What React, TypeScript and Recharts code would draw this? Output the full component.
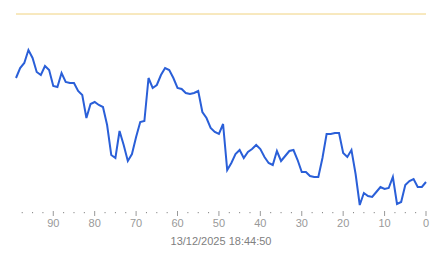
import React from 'react';
import { LineChart, Line, XAxis, YAxis, ReferenceLine } from 'recharts';

// x positions: seconds ago, from 99 down to 0
const ages: number[] = Array.from({ length: 100 }, (_, i) => 99 - i);

// series values
const values: number[] = [
  132, 142, 147, 160, 152, 138, 135, 144, 140, 124,
  123, 137, 128, 127, 127, 119, 115, 92, 106, 108,
  105, 103, 85, 55, 52, 79, 65, 49, 56, 73,
  88, 89, 132, 122, 125, 135, 142, 140, 132, 122,
  121, 117, 116, 117, 119, 98, 92, 82, 78, 76,
  86, 40, 47, 56, 60, 52, 58, 61, 65, 61,
  53, 47, 45, 59, 49, 54, 59, 60, 50, 38,
  38, 34, 33, 33, 52, 76, 76, 77, 77, 57,
  53, 60, 36, 5, 17, 14, 13, 18, 23, 21,
  22, 33, 6, 8, 25, 29, 31, 23, 23, 28,
];

const limitValue = 196;
const tickValues: number[] = Array.from({ length: 40 }, (_, i) => i * 2.5);
const axisTitle = '13/12/2025 18:44:50';

const data = ages.map((age, i) => ({ age, value: values[i] }));

const Tick = (props: any) => {
  const { x, y, payload } = props;
  const v = payload.value as number;
  const major = Math.abs(v % 10) < 0.001;
  if (major) {
    return (
      <g>
        <line x1={x} x2={x} y1={y + 1} y2={y + 6} stroke="#999" strokeWidth={1} />
        <text x={x} y={y + 17} textAnchor="middle" fill="#999" fontSize={11} fontFamily="Liberation Sans, Arial, sans-serif">
          {v}
        </text>
      </g>
    );
  }
  return <rect x={x - 0.5} y={y + 2} width={1} height={1.2} fill="#888" />;
};

export default function App() {
  return (
    <div style={{ position: 'absolute', left: 0, top: 0, background: '#fff' }}>
      <LineChart width={443} height={258} data={data} margin={{ top: 10, right: 17, bottom: 8, left: 16 }}>
        <XAxis
          dataKey="age"
          type="number"
          domain={[0, 99]}
          reversed
          ticks={tickValues}
          interval={0}
          tick={<Tick />}
          tickLine={false}
          axisLine={false}
          tickSize={0}
          tickMargin={0}
          height={40}
          label={{ value: axisTitle, position: 'insideBottom', offset: 5, fill: '#808080', fontSize: 11, fontFamily: 'Liberation Sans, Arial, sans-serif' }}
        />
        <YAxis hide domain={[0, 200]} />
        <ReferenceLine y={limitValue} stroke="#f0d27e" strokeWidth={1} />
        <Line type="linear" dataKey="value" stroke="#2a5fd8" strokeWidth={2} dot={false} isAnimationActive={false} />
      </LineChart>
    </div>
  );
}
